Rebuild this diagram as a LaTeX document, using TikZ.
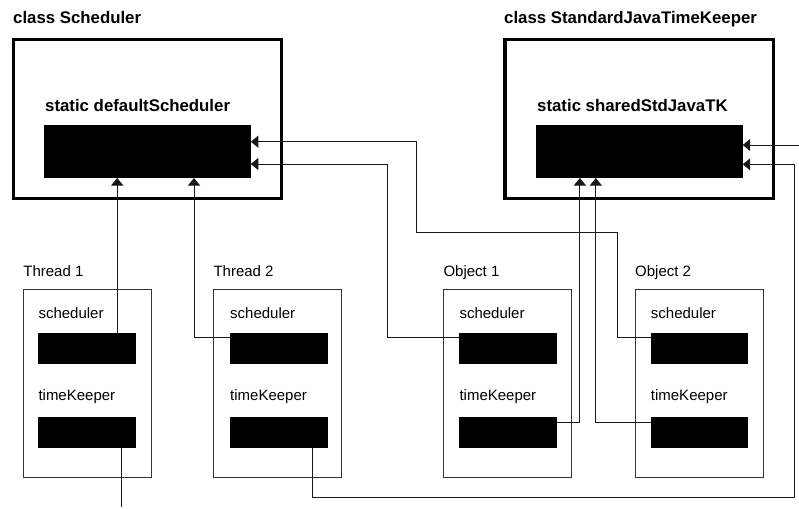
\documentclass[tikz,border=0pt]{standalone}
\usepackage{fontspec}
\setmainfont{Liberation Sans}
\usetikzlibrary{arrows.meta,calc}

\begin{document}
\begin{tikzpicture}[x=1pt,y=-1pt,
  classbox/.style={draw, line width=3.3pt, minimum width=268.4pt, minimum height=159pt,
    anchor=north west, inner sep=0pt, outer sep=0pt},
  field/.style={fill=black, draw=none, minimum width=206.5pt, minimum height=53pt,
    anchor=north west, inner sep=0pt, outer sep=0pt},
  instbox/.style={draw=black!80, line width=1pt, minimum width=128.5pt, minimum height=188pt,
    anchor=north west, inner sep=0pt, outer sep=0pt},
  slot/.style={fill=black, draw=none, minimum width=97.7pt, minimum height=31pt,
    anchor=north west, inner sep=0pt, outer sep=0pt},
  title/.style={anchor=base west, inner sep=0pt, font=\fontsize{16.8}{18}\selectfont\bfseries},
  label/.style={anchor=base west, inner sep=0pt, font=\fontsize{15}{17}\selectfont},
  wire/.style={draw=black!90, line width=1pt},
  conn/.style={wire, -{Triangle[length=7.5pt, width=12pt]}}
]
\fill[white] (0,0) rectangle (799,508);
\useasboundingbox (0,0) rectangle (799,508);

% class boxes with their static fields
\node[title] (tsch) at (13,23.3) {class Scheduler};
\node[classbox] (sch) at (13.3,39.3) {};
\node[title] (sdef) at (45,111.7) {static defaultScheduler};
\node[field] (ds) at (44.3,125) {};

\node[title] (tstk) at (504,23.3) {class StandardJavaTimeKeeper};
\node[classbox] (stk) at (505,39.3) {};
\node[title] (sshr) at (537,111.7) {static sharedStdJavaTK};
\node[field] (sj) at (536.2,125) {};

% instances, each with a scheduler and a timeKeeper reference
\foreach \id/\name/\bx/\sx in {t1/Thread 1/23.2/38.3, t2/Thread 2/213.3/230,
                                 o1/Object 1/443.3/459.3, o2/Object 2/635/650.7} {
  \node[label] (\id-lbl) at (\bx,276.7) {\name};
  \node[instbox] (\id) at (\bx,289.3) {};
  \node[label] (\id-slbl) at (\sx,318.3) {scheduler};
  \node[slot] (\id s) at (\sx,332.7) {};
  \node[label] (\id-tlbl) at (\sx,400.5) {timeKeeper};
  \node[slot] (\id t) at (\sx,416.7) {};
}

% scheduler references
\draw[conn] (t1s.north west) ++(78.9,0) coordinate (a1) -- (a1 |- ds.south);
\draw[conn] (t2s.north west) ++(0,4.6) -- ++(-36,0) coordinate (a3) -- (a3 |- ds.south);
\draw[conn] (o1s.north west) ++(0,4.6) -| ($(ds.north east)+(136.3,39)$) -- ($(ds.north east)+(0,39)$);
\draw[conn] (o2s.north west) ++(0,4.6) -- ++(-33.7,0) -- ++(0,-105.3) -- ++(-201,0)
  |- ($(ds.north east)+(0,16.7)$);

% timeKeeper references
\draw[wire] (t1t.south west) ++(83.4,0) -- ++(0,59.3) coordinate (tkout);
\draw[conn] (t2t.south west) ++(82.3,0) -- ++(0,49.7) -| ($(sj.north east)+(51.3,39.3)$)
  -- ($(sj.north east)+(0,39.3)$);
\draw[conn] (o1t.north east) ++(0,6) -- ++(22.9,0) coordinate (a6) -- (a6 |- sj.south);
\draw[conn] (o2t.north west) ++(0,5.6) -- ++(-54.9,0) coordinate (a8) -- (a8 |- sj.south);
\coordinate (feed) at (799,145);
\draw[conn] (feed) -- (feed -| sj.east);
\end{tikzpicture}
\end{document}
